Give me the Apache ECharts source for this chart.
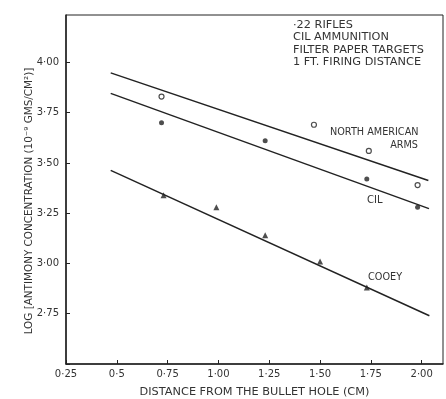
<!DOCTYPE html>
<html>
<head>
<meta charset="utf-8">
<script src="https://cdn.jsdelivr.net/npm/echarts@6/dist/echarts.min.js"></script>
<style>
html,body{margin:0;padding:0;background:#fff;}
#chart{width:446px;height:399px;}
</style>
</head>
<body>
<div id="chart"></div>
<script>
// ---- data ----
var xTickValues = [0.25, 0.5, 0.75, 1.00, 1.25, 1.50, 1.75, 2.00];
var xTickLabels = ['0·25', '0·5', '0·75', '1·00', '1·25', '1·50', '1·75', '2·00'];
var yTickValues = [2.75, 3.00, 3.25, 3.50, 3.75, 4.00];
var yTickLabels = ['2·75', '3·00', '3·25', '3·50', '3·75', '4·00'];

var northAmericanPoints = [[0.72, 3.83], [1.47, 3.69], [1.74, 3.56], [1.98, 3.39]];
var cilPoints = [[0.72, 3.70], [1.23, 3.61], [1.73, 3.42], [1.98, 3.28]];
var cooeyPoints = [[0.73, 3.34], [0.99, 3.28], [1.23, 3.14], [1.50, 3.01], [1.73, 2.88]];

var northAmericanLine = [[0.47, 3.948], [2.033, 3.413]];
var cilLine = [[0.47, 3.846], [2.036, 3.273]];
var cooeyLine = [[0.47, 3.463], [2.038, 2.740]];

var conditionsText = ['·22 RIFLES', 'CIL AMMUNITION', 'FILTER PAPER TARGETS', '1 FT. FIRING DISTANCE'];
var xTitle = 'DISTANCE FROM THE BULLET HOLE (CM)';
var yTitle = 'LOG [ANTIMONY CONCENTRATION (10⁻⁹ GMS/CM²)]';

var ink = '#222';
var font = 'DejaVu Sans';

function labelFor(values, labels) {
  return function (v) {
    for (var i = 0; i < values.length; i++) {
      if (Math.abs(values[i] - v) < 1e-6) return labels[i];
    }
    return '';
  };
}

var chart = echarts.init(document.getElementById('chart'), null, {renderer: 'canvas'});
chart.setOption({
  backgroundColor: '#fff',
  animation: false,
  grid: {left: 66, right: 3, top: 15, bottom: 35, show: true, borderColor: ink, borderWidth: 1,
         containLabel: false, outerBoundsMode: 'none'},
  xAxis: {
    type: 'value', min: 0.25, max: 2.105, interval: 0.25,
    axisLine: {lineStyle: {color: ink, width: 1.5}},
    axisTick: {inside: true, length: 4, lineStyle: {color: ink}},
    splitLine: {show: false},
    axisLabel: {formatter: labelFor(xTickValues, xTickLabels), color: '#333', fontFamily: font, fontSize: 10, margin: 5, showMaxLabel: false},
    name: xTitle, nameLocation: 'middle', nameGap: 23,
    nameTextStyle: {color: '#333', fontFamily: font, fontSize: 11.3}
  },
  yAxis: {
    type: 'value', min: 2.5, max: 4.236, interval: 0.25,
    axisLine: {lineStyle: {color: ink, width: 1.5}},
    axisTick: {inside: true, length: 4, lineStyle: {color: ink}},
    splitLine: {show: false},
    axisLabel: {formatter: labelFor(yTickValues, yTickLabels), color: '#333', fontFamily: font, fontSize: 10, margin: 7, showMaxLabel: false}
  },
  graphic: [
    {type: 'text', x: 29, y: 201, rotation: Math.PI / 2,
     style: {text: yTitle, fill: '#333', font: '10.4px "DejaVu Sans"', align: 'center', verticalAlign: 'middle'}},
    {type: 'text', x: 293, y: 19,
     style: {text: conditionsText.join('\n'), fill: '#333', font: '11.3px "DejaVu Sans"', lineHeight: 12.3, align: 'left', verticalAlign: 'top'}},
    {type: 'text', x: 330, y: 132,
     style: {text: 'NORTH AMERICAN', fill: '#333', font: '9.7px "DejaVu Sans"', align: 'left', verticalAlign: 'middle'}},
    {type: 'text', x: 418, y: 145,
     style: {text: 'ARMS', fill: '#333', font: '9.7px "DejaVu Sans"', align: 'right', verticalAlign: 'middle'}},
    {type: 'text', x: 367, y: 200,
     style: {text: 'CIL', fill: '#333', font: '10px "DejaVu Sans"', align: 'left', verticalAlign: 'middle'}},
    {type: 'text', x: 368, y: 277,
     style: {text: 'COOEY', fill: '#333', font: '9.7px "DejaVu Sans"', align: 'left', verticalAlign: 'middle'}}
  ],
  series: [
    {type: 'line', data: northAmericanLine, showSymbol: false, lineStyle: {color: ink, width: 1.5}, silent: true},
    {type: 'line', data: cilLine, showSymbol: false, lineStyle: {color: ink, width: 1.5}, silent: true},
    {type: 'line', data: cooeyLine, showSymbol: false, lineStyle: {color: ink, width: 1.5}, silent: true},
    {type: 'scatter', data: northAmericanPoints, symbol: 'circle', symbolSize: 5,
     itemStyle: {color: '#fff', borderColor: ink, borderWidth: 1.2}},
    {type: 'scatter', data: cilPoints, symbol: 'circle', symbolSize: 5,
     itemStyle: {color: ink}},
    {type: 'scatter', data: cooeyPoints, symbol: 'triangle', symbolSize: 6,
     itemStyle: {color: ink}}
  ]
});
</script>
</body>
</html>
